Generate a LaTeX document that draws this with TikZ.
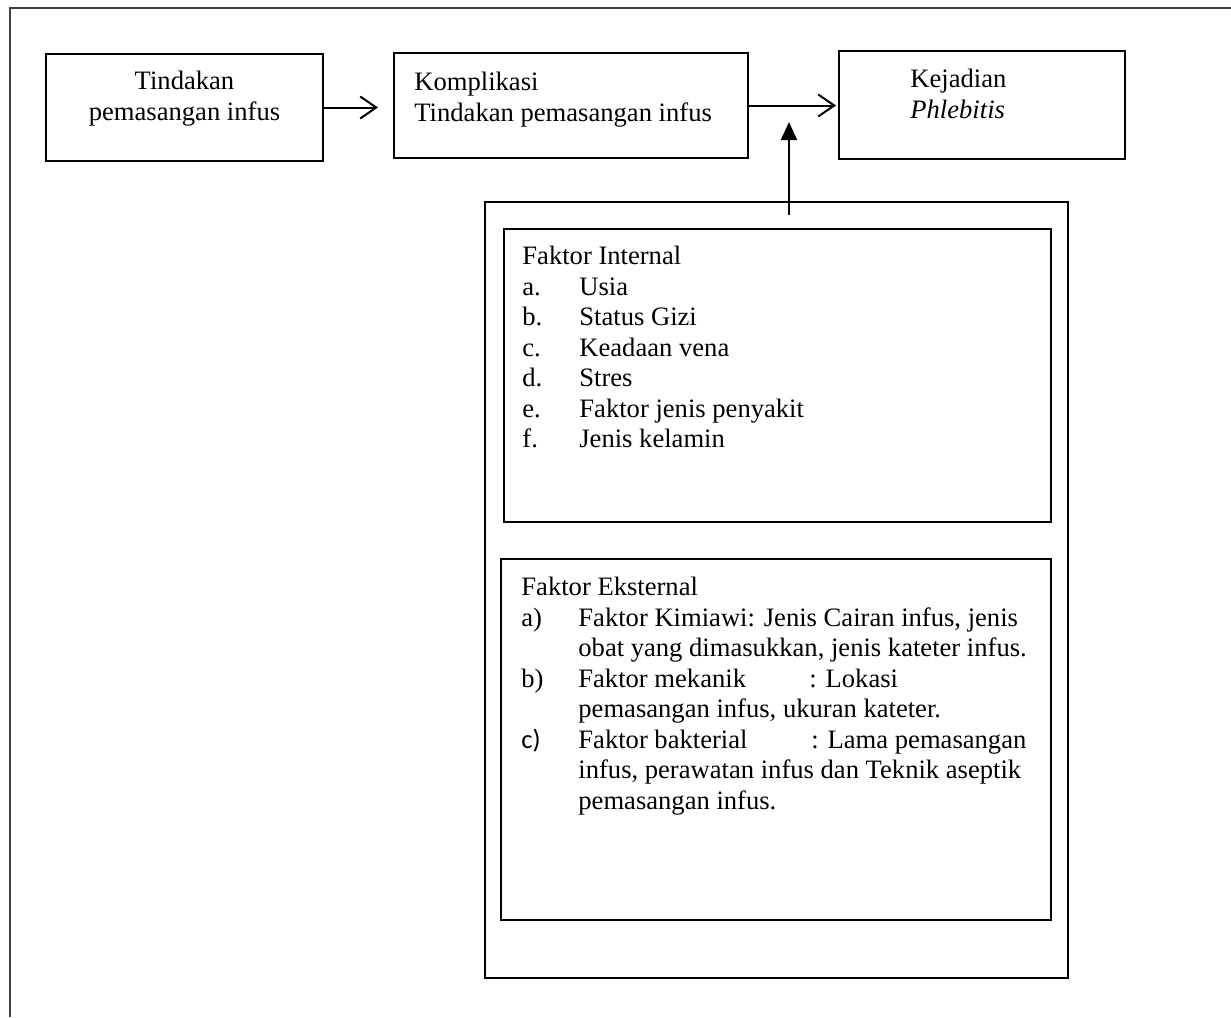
\documentclass[tikz,border=0pt]{standalone}
\usepackage{fontspec}
\setmainfont{Liberation Serif}
\newfontfamily\sansc{Carlito}
\usetikzlibrary{arrows.meta,positioning}

\tikzset{
  kotak/.style={draw,line width=1pt,inner sep=0pt,anchor=north west},
  teks/.style={inner sep=0pt,anchor=north west,align=left,font=\fontsize{13.3}{15.25}\selectfont},
  panah/.style={line width=1pt,-{Straight Barb[length=8pt,width=11pt]}},
}
\newcommand\butir[2]{\makebox[28.5pt][l]{#1}#2}
\newcommand\lanjut{\hspace*{28.5pt}}

\begin{document}
\begin{tikzpicture}[x=0.5pt,y=-0.5pt]
  \useasboundingbox (0,0) rectangle (1231,1017);
  % page frame
  \draw[line width=0.75pt,black!75] (10,1017) -- (10,8) -- (1231,8);

  % top row
  \node[kotak,minimum width=138.5pt,minimum height=53.5pt] (tindakan) at (45,53) {};
  \node[kotak,minimum width=177pt,minimum height=52.5pt] (komplikasi) at (393,52) {};
  \node[kotak,minimum width=143pt,minimum height=54pt] (kejadian) at (838,50) {};

  \node[teks,align=center,below=9pt of tindakan.north] (tTindakan) {Tindakan\\pemasangan infus};
  \node[teks,below right=10pt and 10.5pt of komplikasi.north west] (tKomplikasi) {Komplikasi\\Tindakan pemasangan infus};
  \node[teks,below right=9.5pt and 36pt of kejadian.north west] (tKejadian) {Kejadian\\\textit{Phlebitis}};

  % factors
  \node[kotak,minimum width=291.5pt,minimum height=388pt] (faktor) at (484,201) {};
  \node[kotak,minimum width=273.5pt,minimum height=146.5pt] (internal) at (503,228) {};
  \node[kotak,minimum width=275pt,minimum height=180.5pt] (eksternal) at (500,558) {};

  \node[teks,below right=9pt and 9.5pt of internal.north west] (tInternal) {Faktor Internal\\
    \butir{a.}{Usia}\\
    \butir{b.}{Status Gizi}\\
    \butir{c.}{Keadaan vena}\\
    \butir{d.}{Stres}\\
    \butir{e.}{Faktor jenis penyakit}\\
    \butir{f.}{Jenis kelamin}};
  \node[teks,below right=9.5pt and 10.5pt of eksternal.north west] (tEksternal) {Faktor Eksternal\\
    \butir{a)}{Faktor Kimiawi: Jenis Cairan infus, jenis}\\
    \lanjut obat yang dimasukkan, jenis kateter infus.\\
    \butir{b)}{\makebox[115.5pt][l]{Faktor mekanik}: Lokasi}\\
    \lanjut pemasangan infus, ukuran kateter.\\
    \butir{{\sansc c)}}{\makebox[116.5pt][l]{Faktor bakterial}: Lama pemasangan}\\
    \lanjut infus, perawatan infus dan Teknik aseptik\\
    \lanjut pemasangan infus.};

  % arrows
  \draw[panah,shorten >=7.5pt] (tindakan.east) -- (tindakan.east -| komplikasi.west);
  \draw[panah,shorten >=1pt] (komplikasi.east) -- (komplikasi.east -| kejadian.west);
  \coordinate (pangkal) at (789,215);
  \coordinate (ujung) at (789,122);
  \draw[line width=1pt,-{Triangle[length=9pt,width=8pt]}] (pangkal) -- (ujung);
\end{tikzpicture}
\end{document}
